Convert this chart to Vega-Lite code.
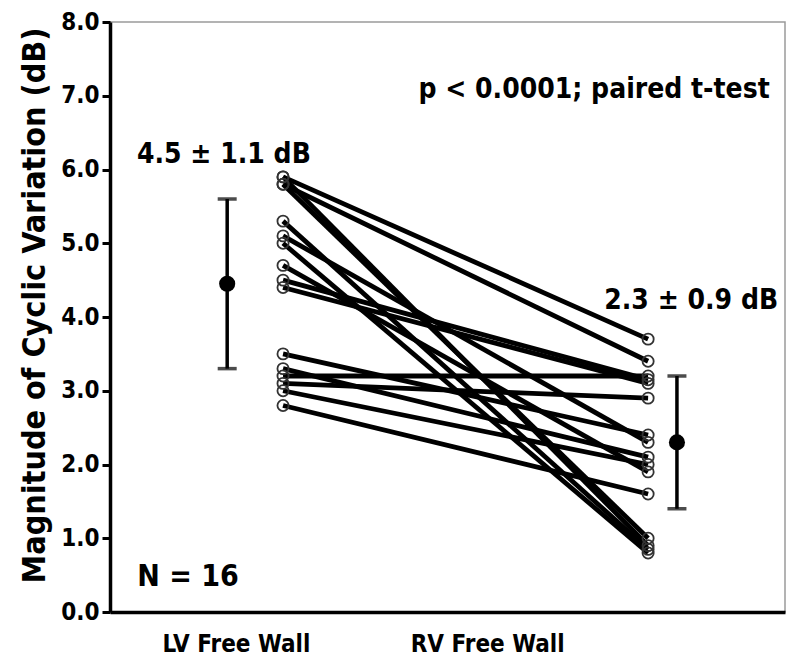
{
  "$schema": "https://vega.github.io/schema/vega-lite/v6.json",
  "autosize": "none",
  "width": 675,
  "height": 590,
  "padding": {"left": 110, "top": 22, "right": 15, "bottom": 51},
  "background": "white",
  "config": {
    "view": {"stroke": "#9a9a9a", "strokeWidth": 1.5},
    "font": "'DejaVu Sans Condensed', 'Liberation Sans', sans-serif",
    "axis": {"labelFont": "'DejaVu Sans Condensed', 'Liberation Sans', sans-serif", "titleFont": "'DejaVu Sans Condensed', 'Liberation Sans', sans-serif"}
  },
  "datasets": {
    "pairs": [
      {"id": 1, "cond": 1, "v": 5.9}, {"id": 1, "cond": 2, "v": 3.7},
      {"id": 2, "cond": 1, "v": 5.9}, {"id": 2, "cond": 2, "v": 0.9},
      {"id": 3, "cond": 1, "v": 5.8}, {"id": 3, "cond": 2, "v": 3.4},
      {"id": 4, "cond": 1, "v": 5.8}, {"id": 4, "cond": 2, "v": 1.0},
      {"id": 5, "cond": 1, "v": 5.3}, {"id": 5, "cond": 2, "v": 0.85},
      {"id": 6, "cond": 1, "v": 5.1}, {"id": 6, "cond": 2, "v": 2.3},
      {"id": 7, "cond": 1, "v": 5.0}, {"id": 7, "cond": 2, "v": 0.8},
      {"id": 8, "cond": 1, "v": 4.7}, {"id": 8, "cond": 2, "v": 1.9},
      {"id": 9, "cond": 1, "v": 4.5}, {"id": 9, "cond": 2, "v": 3.15},
      {"id": 10, "cond": 1, "v": 4.4}, {"id": 10, "cond": 2, "v": 3.1},
      {"id": 11, "cond": 1, "v": 3.5}, {"id": 11, "cond": 2, "v": 2.4},
      {"id": 12, "cond": 1, "v": 3.1}, {"id": 12, "cond": 2, "v": 2.9},
      {"id": 13, "cond": 1, "v": 3.2}, {"id": 13, "cond": 2, "v": 3.2},
      {"id": 14, "cond": 1, "v": 3.0}, {"id": 14, "cond": 2, "v": 2.0},
      {"id": 15, "cond": 1, "v": 3.3}, {"id": 15, "cond": 2, "v": 2.1},
      {"id": 16, "cond": 1, "v": 2.8}, {"id": 16, "cond": 2, "v": 1.6}
    ],
    "means": [
      {"group": "LV", "cond": 0.847, "mean": 4.45, "lo": 3.3, "hi": 5.6},
      {"group": "RV", "cond": 2.079, "mean": 2.3, "lo": 1.4, "hi": 3.2}
    ]
  },
  "layer": [
    {
      "data": {"name": "pairs"},
      "mark": {"type": "line", "color": "black", "strokeWidth": 4.8},
      "encoding": {
        "x": {
          "field": "cond", "type": "quantitative",
          "scale": {"domain": [0.526, 2.375], "nice": false, "zero": false},
          "axis": {
            "values": [0.871, 1.559],
            "labelExpr": "datum.value < 1.2 ? 'LV Free Wall' : 'RV Free Wall'",
            "title": null, "grid": false, "ticks": false,
            "domainColor": "black", "domainWidth": 3.5,
            "labelFontSize": 24, "labelFontWeight": "bold", "labelColor": "black",
            "labelPadding": 20
          }
        },
        "y": {
          "field": "v", "type": "quantitative",
          "scale": {"domain": [0, 8], "nice": false},
          "axis": {
            "values": [0, 1, 2, 3, 4, 5, 6, 7, 8],
            "format": ".1f",
            "title": "Magnitude of Cyclic Variation (dB)",
            "titleFontSize": 32, "titleFontWeight": "bold", "titleColor": "black",
            "titlePadding": 9, "titleY": 283,
            "grid": false,
            "domainColor": "black", "domainWidth": 3.5,
            "tickColor": "black", "tickWidth": 3, "tickSize": 8,
            "labelFontSize": 24, "labelFontWeight": "bold", "labelColor": "black",
            "labelPadding": 3
          }
        },
        "detail": {"field": "id"}
      }
    },
    {
      "data": {"name": "pairs"},
      "mark": {"type": "point", "shape": "circle", "filled": false, "stroke": "#333", "strokeWidth": 1.8, "size": 125, "fill": "white", "fillOpacity": 0},
      "encoding": {
        "x": {"field": "cond", "type": "quantitative"},
        "y": {"field": "v", "type": "quantitative"}
      }
    },
    {
      "data": {"name": "means"},
      "mark": {"type": "rule", "color": "black", "strokeWidth": 3.5},
      "encoding": {
        "x": {"field": "cond", "type": "quantitative"},
        "y": {"field": "lo", "type": "quantitative"},
        "y2": {"field": "hi"}
      }
    },
    {
      "data": {"name": "means"},
      "mark": {"type": "tick", "color": "black", "thickness": 3.5, "size": 19, "orient": "horizontal"},
      "encoding": {
        "x": {"field": "cond", "type": "quantitative"},
        "y": {"field": "lo", "type": "quantitative"}
      }
    },
    {
      "data": {"name": "means"},
      "mark": {"type": "tick", "color": "black", "thickness": 3.5, "size": 19, "orient": "horizontal"},
      "encoding": {
        "x": {"field": "cond", "type": "quantitative"},
        "y": {"field": "hi", "type": "quantitative"}
      }
    },
    {
      "data": {"name": "means"},
      "mark": {"type": "circle", "color": "black", "opacity": 1, "size": 260},
      "encoding": {
        "x": {"field": "cond", "type": "quantitative"},
        "y": {"field": "mean", "type": "quantitative"}
      }
    },
    {
      "data": {"values": [
        {"label": "4.5 ± 1.1 dB", "tx": 0.838, "ty": 6.2, "fs": 28},
        {"label": "2.3 ± 0.9 dB", "tx": 2.118, "ty": 4.22, "fs": 28},
        {"label": "p < 0.0001; paired t-test", "tx": 1.852, "ty": 7.08, "fs": 28},
        {"label": "N = 16", "tx": 0.74, "ty": 0.47, "fs": 30}
      ]},
      "mark": {"type": "text", "fontWeight": "bold", "color": "black", "align": "center", "baseline": "middle", "font": "'DejaVu Sans Condensed', 'Liberation Sans', sans-serif"},
      "encoding": {
        "x": {"field": "tx", "type": "quantitative"},
        "y": {"field": "ty", "type": "quantitative"},
        "size": {"field": "fs", "type": "quantitative", "scale": null},
        "text": {"field": "label"}
      }
    }
  ]
}
